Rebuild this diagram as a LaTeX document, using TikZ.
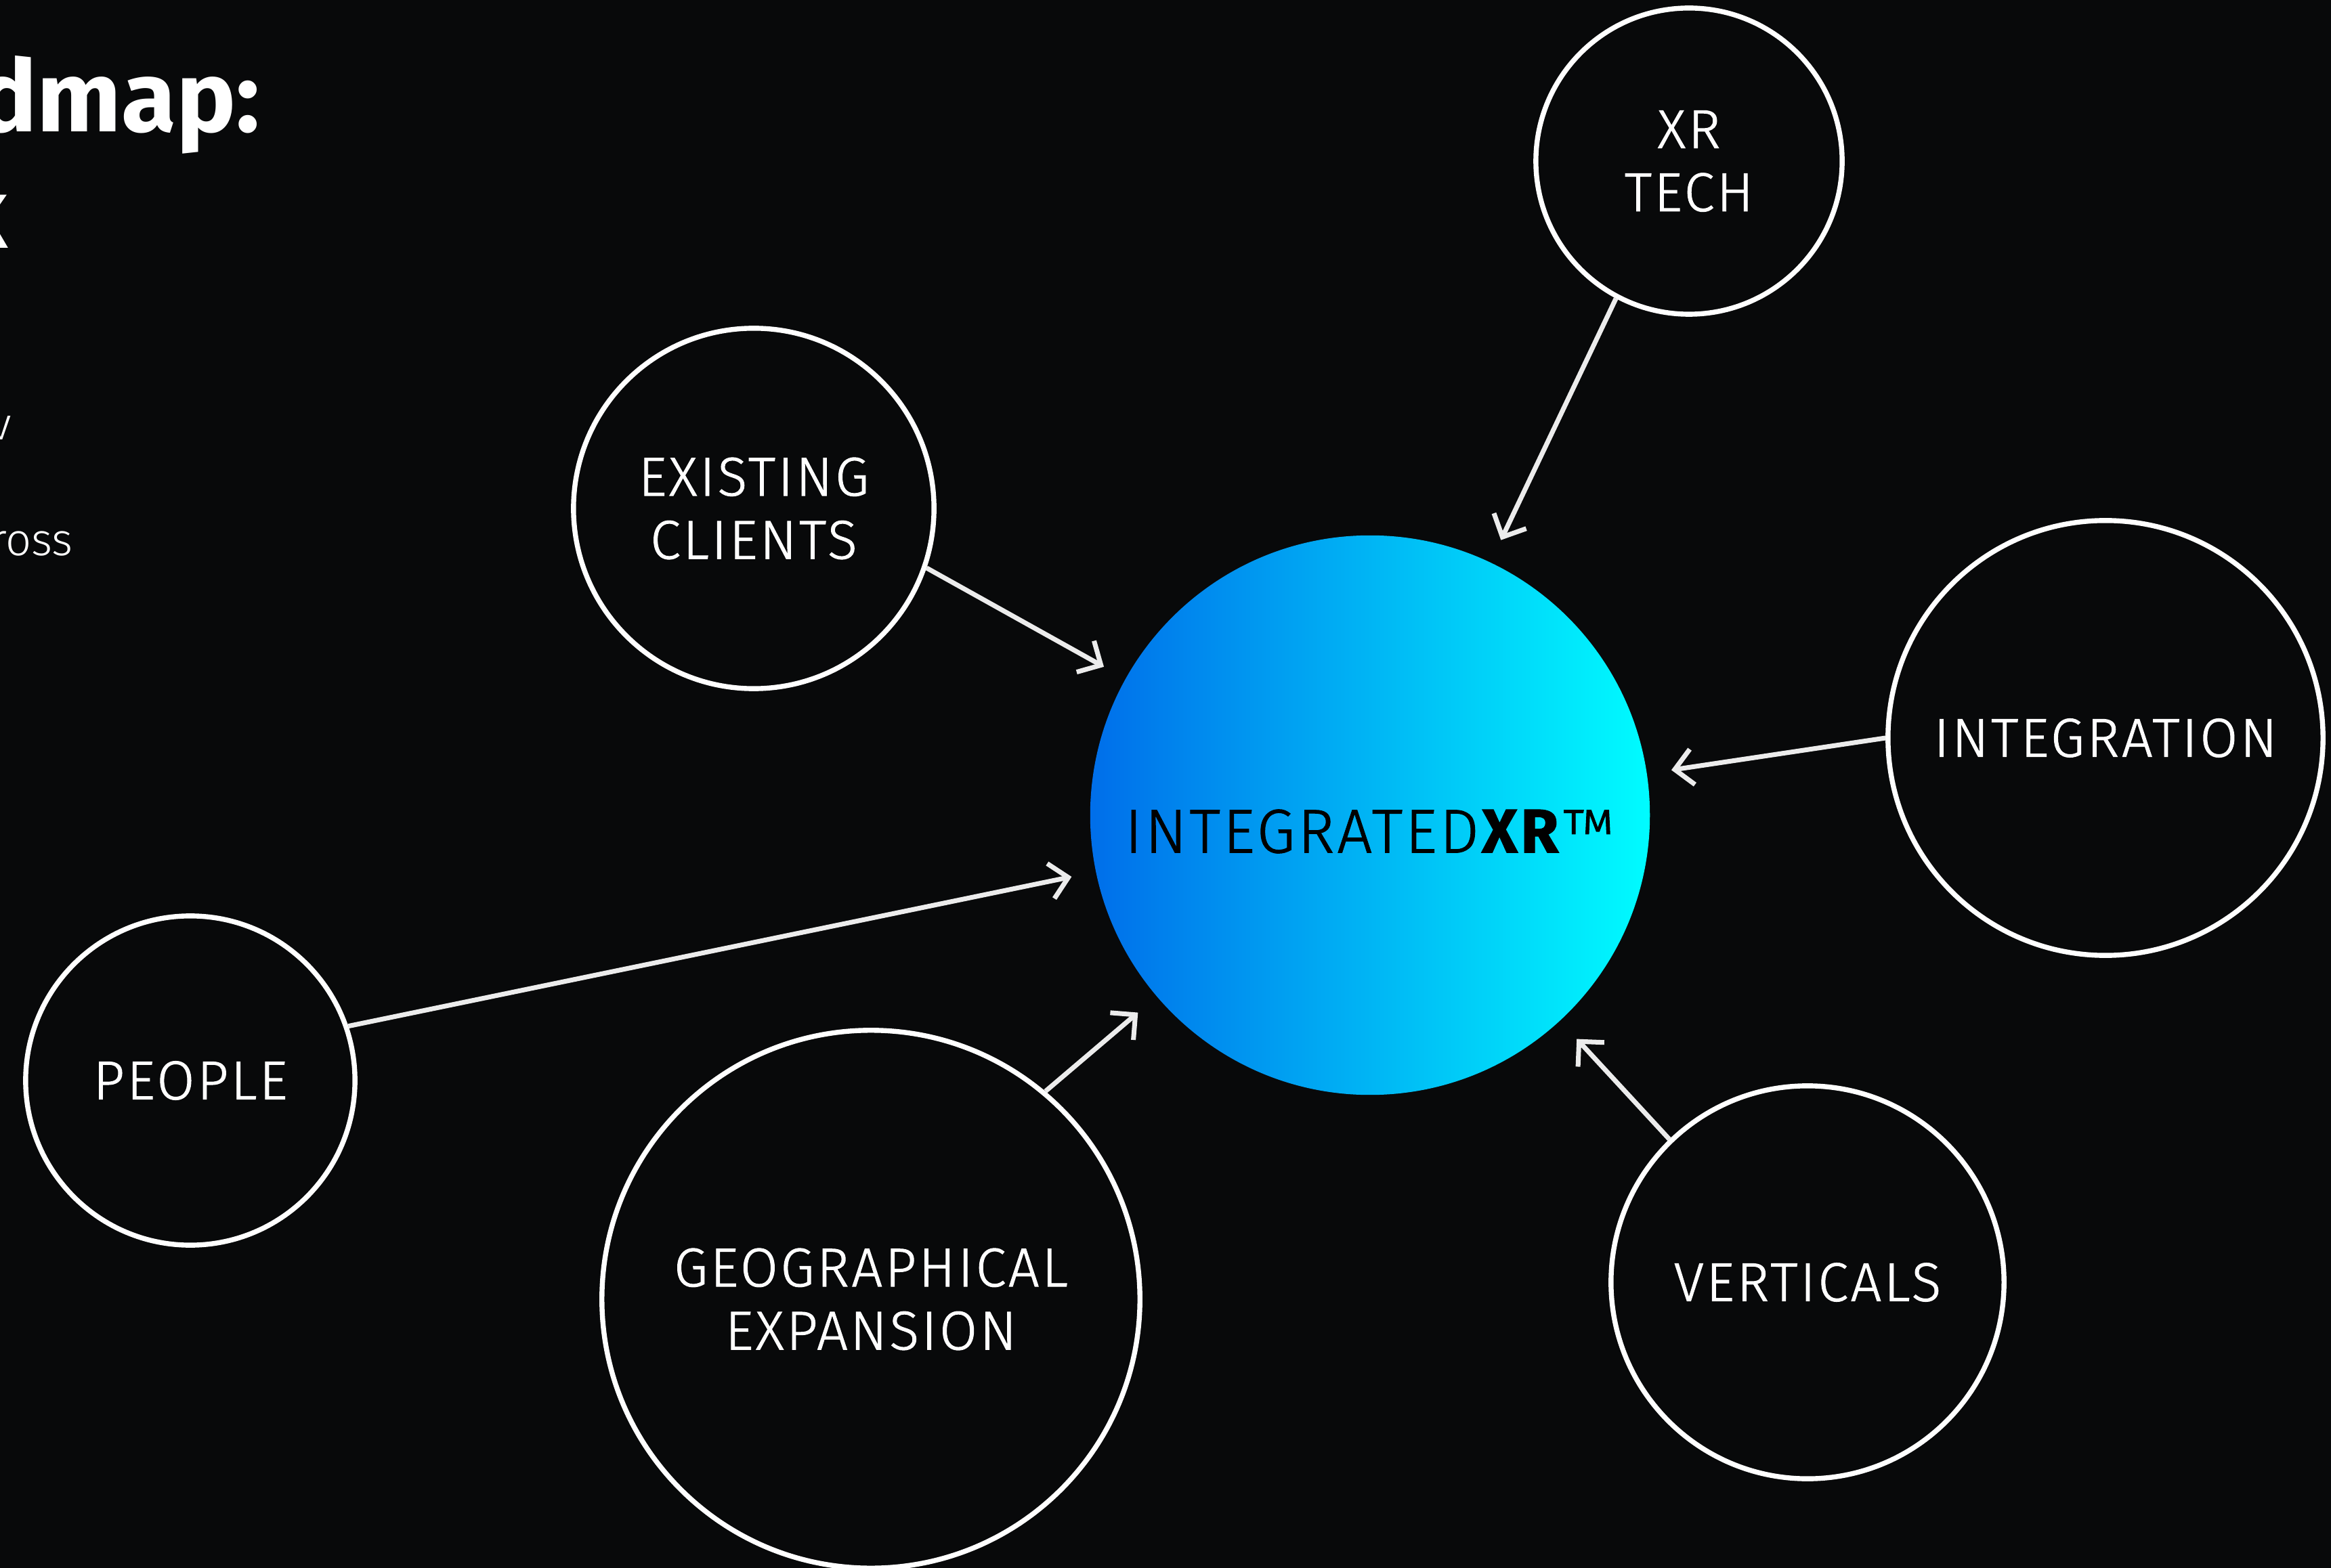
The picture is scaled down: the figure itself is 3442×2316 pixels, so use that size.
\documentclass[tikz,border=0pt]{standalone}
\usepackage{fontspec}
\setmainfont{Fira Sans}[UprightFont={* Light},BoldFont={* Bold}]
\newfontfamily\bubblefont{Fira Sans}[UprightFont={* Light},BoldFont={* Bold},LetterSpace=4.5,FakeBold=1.2]
\usetikzlibrary{arrows.meta,positioning}
\definecolor{xrblue}{RGB}{0,110,234}
\definecolor{xrcyan}{RGB}{0,252,255}
\definecolor{linkgrey}{RGB}{236,236,236}
\definecolor{night}{RGB}{8,9,10}
\tikzset{
  bubble/.style={circle,draw=white,line width=2.1pt,text=white,align=center,
    inner sep=0pt,font=\bubblefont\fontsize{23}{26.5}\selectfont},
  hub/.style={circle,inner sep=0pt,left color=xrblue,right color=xrcyan},
  hubtext/.style={text=black,inner sep=0pt,font=\bubblefont\fontsize{26}{30}\selectfont},
  heading/.style={text=white,inner sep=0pt,font=\fontsize{42}{48}\selectfont\bfseries},
  smalltext/.style={text=white,inner sep=0pt,font=\fontsize{19}{23}\selectfont},
  link/.style={draw=linkgrey,line width=2pt,shorten >=0.36cm,
    -{Straight Barb[length=7.5pt,width=15pt,line width=2pt]}}
}
\begin{document}
\begin{tikzpicture}[x=0.01cm,y=-0.01cm]
  \useasboundingbox (0,0) rectangle (3442,2316);
  \fill[night] (0,0) rectangle (3442,2316);
  \clip (0,0) rectangle (3442,2316);

  % text of the slide, cut off at the left edge
  \node[heading,anchor=base east] (title) at (385,195) {dmap:};
  \node[heading,anchor=base east] (subtitle) at (12,367) {k};
  \node[smalltext,anchor=base east] (lineA) at (18,650) {v};
  \node[smalltext,anchor=base east] (lineB) at (108,821) {ross};

  % centre
  \node[hub,minimum size=8.26cm] (hub) at (2023,1204) {};
  \node[hubtext] (hublabel) at ([yshift=-0.24cm]hub.center) {INTEGRATED\textbf{XR}™};

  % surrounding bubbles
  \node[bubble,minimum size=4.52cm] (xrtech) at (2494,238) {XR\\TECH};
  \node[bubble,minimum size=5.32cm] (clients) at (1113,751) {EXISTING\\CLIENTS};
  \node[bubble,minimum size=6.42cm] (integ) at (3109,1090) {INTEGRATION};
  \node[bubble,minimum size=4.86cm] (people) at (281,1596) {PEOPLE};
  \node[bubble,minimum size=7.94cm] (geo) at (1286,1919) {GEOGRAPHICAL\\EXPANSION};
  \node[bubble,minimum size=5.8cm] (vert) at (2669,1894) {VERTICALS};

  \foreach \s in {xrtech.242,clients.341,integ.180,people.19,geo.50,vert.134}
    \draw[link] (\s) -- (hub);
\end{tikzpicture}
\end{document}
